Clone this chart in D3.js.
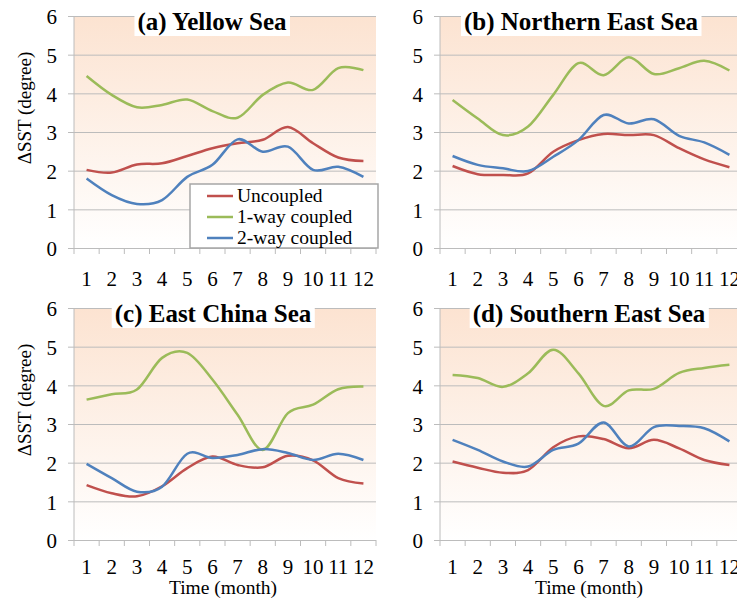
<!DOCTYPE html>
<html lang="en">
<head>
  <meta charset="UTF-8">
  <title>Delta SST by region</title>
  <script src="https://d3js.org/d3.v7.min.js"></script>
  <style>
    body { margin: 0; background: #fff; }
    svg text { font-family: "Liberation Serif", "Times New Roman", serif !important; fill: #000; }
    .line { fill: none; stroke-width: 2.5; }
  </style>
</head>
<body>
  <script>
    // months on the x axis
    const months = ["1", "2", "3", "4", "5", "6", "7", "8", "9", "10", "11", "12"];
    const yTicks = [0, 1, 2, 3, 4, 5, 6];
    const seriesNames = ["Uncoupled", "1-way coupled", "2-way coupled"];

    // (a) Yellow Sea
    const yellowUncoupled = [2.02, 1.95, 2.16, 2.19, 2.38, 2.58, 2.71, 2.80, 3.13, 2.71, 2.34, 2.25];
    const yellow1way      = [4.45, 3.96, 3.64, 3.70, 3.84, 3.54, 3.37, 3.96, 4.28, 4.09, 4.65, 4.60];
    const yellow2way      = [1.80, 1.37, 1.14, 1.24, 1.84, 2.15, 2.81, 2.49, 2.62, 2.02, 2.10, 1.84];

    // (b) Northern East Sea
    const northUncoupled = [2.12, 1.91, 1.89, 1.93, 2.49, 2.79, 2.95, 2.92, 2.92, 2.58, 2.29, 2.09];
    const north1way      = [3.83, 3.35, 2.92, 3.14, 3.96, 4.78, 4.47, 4.93, 4.50, 4.65, 4.84, 4.59];
    const north2way      = [2.38, 2.15, 2.06, 1.99, 2.36, 2.79, 3.44, 3.22, 3.33, 2.90, 2.73, 2.41];

    // (c) East China Sea
    const ecsUncoupled = [1.42, 1.21, 1.13, 1.39, 1.86, 2.16, 1.94, 1.88, 2.18, 2.06, 1.60, 1.46];
    const ecs1way      = [3.63, 3.77, 3.89, 4.71, 4.84, 4.15, 3.24, 2.33, 3.28, 3.50, 3.90, 3.97];
    const ecs2way      = [1.97, 1.60, 1.25, 1.38, 2.23, 2.12, 2.20, 2.35, 2.25, 2.07, 2.23, 2.07];

    // (d) Southern East Sea
    const southUncoupled = [2.03, 1.87, 1.74, 1.81, 2.40, 2.68, 2.61, 2.37, 2.59, 2.37, 2.07, 1.94];
    const south1way      = [4.27, 4.19, 3.96, 4.31, 4.92, 4.31, 3.47, 3.87, 3.91, 4.32, 4.45, 4.53];
    const south2way      = [2.59, 2.33, 2.03, 1.90, 2.33, 2.49, 3.04, 2.42, 2.92, 2.95, 2.89, 2.55];

    const colors = ["#c0504d", "#9bbb59", "#4f81bd"];

    const panels = [
      { title: "(a) Yellow Sea", series: [yellowUncoupled, yellow1way, yellow2way],
        left: 74, top: 16, titleX: 212, titleY: 30, tickY: 38, yTitle: true, xTitle: false, legend: true },
      { title: "(b) Northern East Sea", series: [northUncoupled, north1way, north2way],
        left: 440, top: 16, titleX: 581, titleY: 30, tickY: 38, yTitle: false, xTitle: false, legend: false },
      { title: "(c) East China Sea", series: [ecsUncoupled, ecs1way, ecs2way],
        left: 74, top: 308, titleX: 213, titleY: 322, tickY: 34, yTitle: true, xTitle: true, legend: false },
      { title: "(d) Southern East Sea", series: [southUncoupled, south1way, south2way],
        left: 440, top: 308, titleX: 589, titleY: 322, tickY: 34, yTitle: false, xTitle: true, legend: false }
    ];

    const width = 302, height = 232;
    const serif = "Liberation Serif, Times New Roman, serif";

    const svg = d3.select("body").append("svg")
      .attr("width", 737)
      .attr("height", 604)
      .attr("font-family", serif);

    // peach to white background of each plot area
    const grad = svg.append("defs").append("linearGradient")
      .attr("id", "bg")
      .attr("x1", 0).attr("y1", 0).attr("x2", 0).attr("y2", 1);
    grad.append("stop").attr("offset", "0%").attr("stop-color", "#fce3d1");
    grad.append("stop").attr("offset", "100%").attr("stop-color", "#ffffff");

    const x = d3.scaleBand().domain(months).range([0, width]);
    const y = d3.scaleLinear().domain([0, 6]).range([height, 0]);

    const line = d3.line()
      .x((d, i) => x(months[i]) + x.bandwidth() / 2)
      .y(d => y(d))
      .curve(d3.curveCardinal.tension(0));

    panels.forEach(p => {
      const g = svg.append("g").attr("transform", `translate(${p.left},${p.top})`);

      g.append("rect")
        .attr("width", width)
        .attr("height", height)
        .attr("fill", "url(#bg)");

      // gridlines + y labels
      const yAxis = g.append("g")
        .call(d3.axisLeft(y).tickValues(yTicks).tickFormat(d3.format("d"))
          .tickSize(-width).tickPadding(17))
        .attr("font-family", serif)
        .attr("font-size", 21);
      yAxis.select(".domain").remove();
      yAxis.selectAll(".tick line").attr("x1", -6).attr("stroke", "#bcbcbc");
      yAxis.selectAll(".tick text").attr("dy", "0.38em");

      // vertical axis line
      g.append("line")
        .attr("x1", 0).attr("x2", 0)
        .attr("y1", 0).attr("y2", height)
        .attr("stroke", "#bcbcbc");

      // x tick marks at category boundaries
      const bounds = months.map(m => x(m)).concat([width]);
      g.selectAll(".xtick")
        .data(bounds)
        .enter().append("line")
        .attr("x1", d => d).attr("x2", d => d)
        .attr("y1", height).attr("y2", height + 6)
        .attr("stroke", "#bcbcbc");

      // x labels
      const xAxis = g.append("g")
        .attr("transform", `translate(0,${height})`)
        .call(d3.axisBottom(x).tickSize(0).tickPadding(0))
        .attr("font-family", serif)
        .attr("font-size", 21);
      xAxis.select(".domain").remove();
      xAxis.selectAll(".tick text")
        .attr("dy", null)
        .attr("y", p.tickY);

      // series
      p.series.forEach((s, i) => {
        g.append("path")
          .attr("class", "line")
          .attr("d", line(s))
          .attr("stroke", colors[i]);
      });

      // title with white box
      const t = svg.append("text")
        .attr("x", p.titleX)
        .attr("y", p.titleY)
        .attr("text-anchor", "middle")
        .attr("font-size", 25)
        .attr("font-weight", "bold")
        .text(p.title);
      const bb = t.node().getBBox();
      svg.insert("rect", () => t.node())
        .attr("x", bb.x - 3).attr("y", bb.y + 2)
        .attr("width", bb.width + 6).attr("height", bb.height - 2)
        .attr("fill", "#fff");

      if (p.yTitle) {
        svg.append("text")
          .attr("transform", `translate(31,${p.top + 92}) rotate(-90)`)
          .attr("text-anchor", "middle")
          .attr("font-size", 19)
          .text("\u0394SST (degree)");
      }
      if (p.xTitle) {
        svg.append("text")
          .attr("x", p.left + 149)
          .attr("y", 594)
          .attr("text-anchor", "middle")
          .attr("font-size", 19.5)
          .text("Time (month)");
      }

      if (p.legend) {
        const lg = g.append("g").attr("transform", "translate(116,168)");
        lg.append("rect")
          .attr("width", 188)
          .attr("height", 64)
          .attr("fill", "#fff")
          .attr("stroke", "#a6a6a6")
          .attr("stroke-width", 1.5);
        const row = lg.selectAll(".row")
          .data(seriesNames)
          .enter().append("g")
          .attr("transform", (d, i) => `translate(0,${12 + i * 21})`);
        row.append("line")
          .attr("x1", 17).attr("x2", 43)
          .attr("stroke", (d, i) => colors[i])
          .attr("stroke-width", 2.5);
        row.append("text")
          .attr("x", 47)
          .attr("y", 6)
          .attr("font-size", 19.5)
          .text(d => d);
      }
    });
  </script>
</body>
</html>
